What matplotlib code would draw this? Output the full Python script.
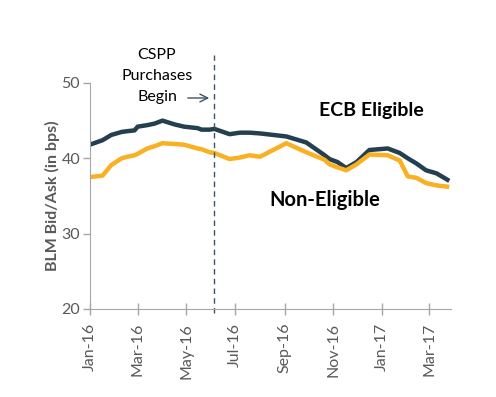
import numpy as np
import pandas as pd
import matplotlib
matplotlib.use("Agg")
from matplotlib import pyplot as plt
import matplotlib.dates as mdates

# weekly-ish readings
dates = ["2016-01-01", "2016-01-17", "2016-01-28", "2016-02-10", "2016-02-17",
         "2016-02-26", "2016-03-01", "2016-03-13", "2016-03-22", "2016-04-01",
         "2016-04-16", "2016-04-28", "2016-05-15", "2016-05-20", "2016-05-30",
         "2016-06-05", "2016-06-24", "2016-07-07", "2016-07-19", "2016-08-01",
         "2016-09-03", "2016-09-28", "2016-10-21", "2016-10-27", "2016-11-06",
         "2016-11-17", "2016-11-30", "2016-12-16", "2017-01-08", "2017-01-23",
         "2017-02-02", "2017-02-13", "2017-02-25", "2017-03-10", "2017-03-26"]
ecb_eligible = [41.8, 42.4, 43.1, 43.5, 43.6, 43.7, 44.2, 44.4, 44.6, 45.0,
                44.5, 44.2, 44.0, 43.8, 43.8, 43.9, 43.2, 43.4, 43.4, 43.3,
                42.9, 42.1, 40.4, 39.9, 39.5, 38.7, 39.5, 41.1, 41.3, 40.7,
                40.0, 39.3, 38.4, 38.0, 37.0]
non_eligible = [37.5, 37.7, 39.1, 40.0, 40.2, 40.4, 40.6, 41.3, 41.6, 42.0,
                41.9, 41.8, 41.3, 41.2, 40.8, 40.7, 39.9, 40.1, 40.4, 40.2,
                42.0, 40.8, 39.8, 39.2, 38.8, 38.4, 39.2, 40.5, 40.4, 39.7,
                37.6, 37.4, 36.7, 36.4, 36.2]
cspp_start = "2016-06-05"
yticks = [20, 30, 40, 50]

x = pd.to_datetime(dates)
gray = "#595959"

plt.rcParams["font.family"] = ["Lato", "DejaVu Sans"]
fig = plt.figure(figsize=(4.96, 3.97), dpi=100)
ax = fig.add_axes([0.181, 0.222, 0.728, 0.569])

ax.plot(x, ecb_eligible, color="#243F4F", lw=3.2, solid_capstyle="butt")
ax.plot(x, non_eligible, color="#F9B023", lw=3.2, solid_capstyle="butt")

ax.axvline(pd.Timestamp(cspp_start), ymin=-0.02, ymax=1.125, clip_on=False,
           color="#3F5366", lw=1, ls=(0, (4, 3)))

ax.set_ylim(20, 50)
ax.set_yticks(yticks)
ax.set_xlim(pd.Timestamp("2016-01-01"), pd.Timestamp("2017-03-28"))
ax.xaxis.set_major_locator(mdates.MonthLocator(bymonth=[1, 3, 5, 7, 9, 11]))
ax.xaxis.set_major_formatter(mdates.DateFormatter("%b-%y"))
plt.setp(ax.get_xticklabels(), rotation=90)

for s in ["top", "right"]:
    ax.spines[s].set_visible(False)
for s in ["left", "bottom"]:
    ax.spines[s].set_color("#A6A6A6")
ax.tick_params(axis="both", colors="#A6A6A6", labelcolor=gray, labelsize=11.5,
               length=5, width=1)
ax.tick_params(axis="x", direction="inout", length=8, pad=6)
ax.tick_params(axis="y", pad=2)

ax.set_ylabel("BLM Bid/Ask (in bps)", color=gray, fontsize=11.5,
              fontweight="bold", labelpad=1)

ax.text(0.78, 0.88, "ECB Eligible", transform=ax.transAxes, ha="center",
        va="center", fontsize=14, fontweight="bold", color="black")
ax.text(0.652, 0.48, "Non-Eligible", transform=ax.transAxes, ha="center",
        va="center", fontsize=14.5, fontweight="bold", color="black")

fig.text(157 / 496, 1 - 76 / 397, "CSPP\nPurchases\nBegin", ha="center",
         va="center", fontsize=11.5, linespacing=1.6, color="black")
ax.annotate("", xy=(212 / 496, 1 - 98 / 397), xytext=(185 / 496, 1 - 98 / 397),
            xycoords="figure fraction", textcoords="figure fraction",
            arrowprops=dict(arrowstyle="->", color="#3F5366", lw=1,
                            mutation_scale=14))

fig.savefig("out.png", dpi=100)
